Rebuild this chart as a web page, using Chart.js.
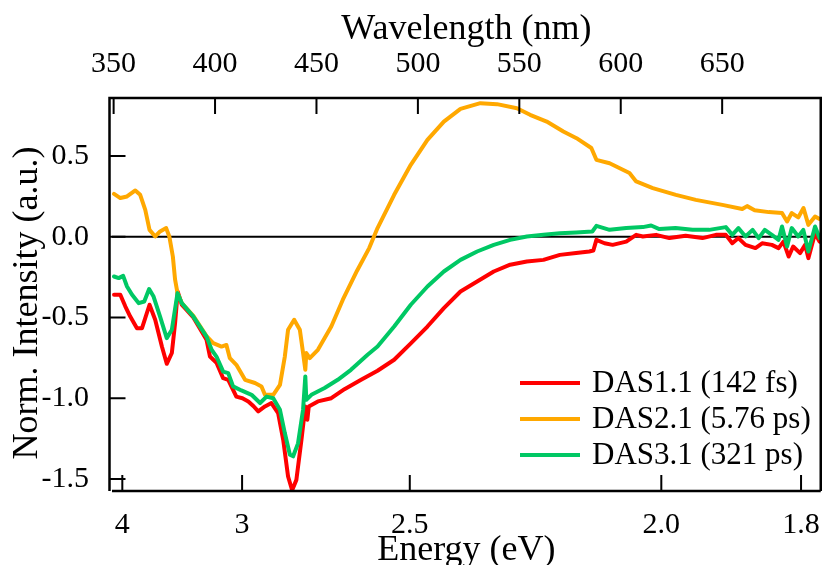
<!DOCTYPE html>
<html>
<head>
<meta charset="utf-8">
<script src="https://cdn.jsdelivr.net/npm/chart.js@4.4.0/dist/chart.umd.min.js"></script>
<style>
  html, body { margin: 0; padding: 0; background: #fff; overflow: hidden; }
  #wrap { width: 828px; height: 565px; }
</style>
</head>
<body>
<div id="wrap"><canvas id="chartDas" width="828" height="565"></canvas></div>
<script>
// DAS1.1 (142 fs) - red
const das1Wl = [350.2, 353.3, 355.8, 358.2, 361.5, 364.0, 367.7, 370.5, 373.8, 376.2, 378.7, 380.3, 381.6, 383.6, 389.3,
  395.8, 397.5, 400.7, 404.0, 406.5, 410.5, 413.5, 416.4, 419.0, 421.3, 424.6, 427.8, 431.1, 433.6, 436.0, 438.0,
  440.1, 442.6, 444.5, 445.5, 446.2, 450.7, 457.3, 463.8, 472.0, 480.1, 488.3, 496.5, 504.7, 512.8, 521.0, 529.2,
  537.4, 545.5, 553.7, 561.9, 570.0, 578.0, 584.5, 586.5, 588.0, 592.0, 596.0, 602.7, 607.6, 610.9, 617.4, 624.0,
  632.0, 640.3, 646.9, 651.8, 655.0, 658.0, 661.5, 666.4, 669.7, 674.5, 677.8, 680.2, 682.8, 685.0, 688.4, 690.9,
  692.5, 695.8, 698.0];
const das1Val = [-0.359, -0.359, -0.432, -0.494, -0.566, -0.566, -0.421, -0.514, -0.68, -0.787, -0.72, -0.535, -0.339, -0.42, -0.50,
  -0.638, -0.742, -0.78, -0.876, -0.886, -0.99, -1.0, -1.02, -1.05, -1.082, -1.051, -1.03, -1.092, -1.258, -1.485, -1.57,
  -1.506, -1.258, -1.051, -1.134, -1.051, -1.02, -1.0, -0.944, -0.886, -0.83, -0.762, -0.66, -0.556, -0.442, -0.339, -0.277,
  -0.215, -0.173, -0.153, -0.143, -0.112, -0.101, -0.091, -0.085, -0.019, -0.04, -0.05, -0.03, 0.012, 0.002, 0.012, -0.008,
  0.006, -0.008, 0.012, 0.012, -0.04, -0.008, -0.05, -0.07, -0.04, -0.05, -0.07, -0.03, -0.122, -0.06, -0.101, -0.05,
  -0.132, 0.022, -0.03];

// DAS2.1 (5.76 ps) - orange
const das2Wl = [350.2, 353.3, 356.6, 360.7, 363.1, 365.6, 367.7, 370.5, 372.9, 375.9, 377.5, 379.2, 380.3, 381.5, 383.6,
  389.3, 395.8, 399.1, 403.2, 405.6, 407.3, 410.5, 414.8, 419.7, 422.9, 424.6, 428.7, 432.0, 434.4, 436.0, 439.0,
  441.8, 443.4, 444.5, 445.0, 446.7, 450.7, 457.3, 463.0, 470.0, 476.0, 480.1, 488.3, 496.5, 504.7, 512.8, 521.0,
  530.8, 539.0, 548.8, 555.3, 563.5, 571.7, 578.2, 585.5, 588.0, 594.5, 604.3, 607.6, 615.8, 627.2, 637.0, 650.1,
  659.9, 662.3, 666.0, 673.0, 679.5, 682.0, 684.3, 687.5, 690.1, 692.5, 695.8, 698.0];
const das2Val = [0.266, 0.24, 0.25, 0.287, 0.26, 0.167, 0.043, 0.002, 0.033, 0.054, 0.0, -0.122, -0.266, -0.349, -0.41,
  -0.49, -0.615, -0.659, -0.68, -0.67, -0.752, -0.793, -0.886, -0.906, -0.927, -0.979, -0.979, -0.917, -0.742, -0.576, -0.514,
  -0.576, -0.72, -0.824, -0.72, -0.752, -0.70, -0.556, -0.39, -0.21, -0.07, 0.054, 0.26, 0.446, 0.601, 0.714, 0.793,
  0.828, 0.822, 0.797, 0.756, 0.714, 0.652, 0.611, 0.55, 0.477, 0.456, 0.395, 0.343, 0.302, 0.26, 0.229, 0.198,
  0.172, 0.19, 0.165, 0.153, 0.147, 0.095, 0.147, 0.12, 0.178, 0.074, 0.126, 0.11];

// DAS3.1 (321 ps) - green
const das3Wl = [350.2, 352.5, 354.7, 356.6, 359.1, 362.4, 365.1, 367.5, 369.7, 372.9, 376.2, 378.7, 381.5, 383.6, 389.3,
  395.8, 398.3, 400.7, 404.0, 406.5, 408.9, 413.0, 418.0, 422.2, 425.4, 428.7, 432.0, 434.4, 436.9, 438.5, 440.9,
  443.4, 444.5, 445.0, 447.5, 454.0, 460.5, 467.0, 475.2, 480.1, 488.3, 496.5, 504.7, 512.8, 521.0, 529.2, 537.4,
  545.5, 553.7, 561.9, 570.0, 578.0, 586.0, 588.0, 594.5, 602.7, 610.9, 615.0, 619.0, 627.0, 635.4, 643.6, 651.8,
  655.0, 658.0, 661.5, 665.0, 668.0, 671.0, 674.5, 677.8, 679.5, 682.0, 684.3, 687.5, 690.0, 692.5, 695.8, 698.0];
const das3Val = [-0.246, -0.256, -0.242, -0.308, -0.359, -0.411, -0.401, -0.324, -0.37, -0.494, -0.628, -0.576, -0.349, -0.411, -0.494,
  -0.618, -0.70, -0.742, -0.835, -0.845, -0.927, -0.952, -0.979, -1.03, -0.99, -1.0, -1.072, -1.216, -1.35, -1.36, -1.28,
  -1.07, -0.865, -1.01, -0.979, -0.937, -0.886, -0.824, -0.731, -0.68, -0.556, -0.421, -0.308, -0.215, -0.143, -0.091, -0.05,
  -0.019, 0.002, 0.012, 0.022, 0.027, 0.033, 0.068, 0.043, 0.054, 0.06, 0.07, 0.048, 0.054, 0.043, 0.043, 0.06,
  0.012, 0.054, 0.002, 0.043, -0.008, 0.043, 0.012, -0.019, 0.064, -0.06, 0.054, 0.002, 0.043, -0.091, 0.064, -0.008];

const seriesLabels = ['DAS1.1 (142 fs)', 'DAS2.1 (5.76 ps)', 'DAS3.1 (321 ps)'];
const seriesColors = ['#ff0000', '#ffa800', '#00c864'];

// axes
const wavelengthTicks = [350, 400, 450, 500, 550, 600, 650];
const energyTicks = [3.5, 3, 2.5, 2.0, 1.8];
const energyTickLabels = ['4', '3', '2.5', '2.0', '1.8'];
const intensityTicks = [0.5, 0.0, -0.5, -1.0, -1.5];
const yTitle = 'Norm. Intensity (a.u.)';

const WL_MIN = 349.2, WL_MAX = 698.6;
const SERIF = "'Liberation Serif', 'Times New Roman', serif";
const tickFont = { family: SERIF, size: 30 };
const titleFont = { family: SERIF, size: 36 };

function toPoints(wl, val) {
    return wl.map((w, i) => ({ x: w, y: val[i] }));
}

// ticks pointing inward, frame, zero line, y title and legend
const decorPlugin = {
    id: 'decor',
    beforeDatasetsDraw(chart) {
        const { ctx, chartArea: a, scales } = chart;
        const y0 = scales.y.getPixelForValue(0);
        ctx.save();
        ctx.strokeStyle = '#000';
        ctx.lineWidth = 2;
        ctx.beginPath();
        ctx.moveTo(a.left, y0);
        ctx.lineTo(a.right, y0);
        ctx.stroke();
        ctx.restore();
    },
    afterDraw(chart) {
        const { ctx, chartArea: a, scales } = chart;
        const leftX = a.left - 2.5;
        ctx.save();
        ctx.strokeStyle = '#000';
        ctx.lineWidth = 2.5;
        ctx.beginPath();
        ctx.moveTo(leftX, a.bottom);
        ctx.lineTo(leftX, a.top);
        ctx.lineTo(a.right, a.top);
        ctx.lineTo(a.right, a.bottom);
        ctx.moveTo(a.left, a.bottom);
        ctx.lineTo(a.right, a.bottom);
        ctx.stroke();

        ctx.lineWidth = 2;
        ctx.beginPath();
        scales.x2.ticks.forEach(t => {
            const px = scales.x2.getPixelForValue(t.value);
            ctx.moveTo(px, a.top);
            ctx.lineTo(px, a.top + 16);
        });
        scales.x.ticks.forEach(t => {
            const px = scales.x.getPixelForValue(t.value);
            ctx.moveTo(px, a.bottom);
            ctx.lineTo(px, a.bottom - 16);
        });
        scales.y.ticks.forEach(t => {
            const py = scales.y.getPixelForValue(t.value);
            ctx.moveTo(leftX, py);
            ctx.lineTo(leftX + 16, py);
        });
        ctx.stroke();

        // y axis title, a bit below the axis centre like the original
        ctx.fillStyle = '#000';
        ctx.font = '36px ' + SERIF;
        ctx.textAlign = 'center';
        ctx.textBaseline = 'middle';
        ctx.translate(28, 303);
        ctx.rotate(-Math.PI / 2);
        ctx.fillText(yTitle, 0, 0);
        ctx.setTransform(1, 0, 0, 1, 0, 0);

        // legend
        const rows = [383, 419, 455];
        ctx.font = '31px ' + SERIF;
        ctx.textAlign = 'left';
        chart.data.datasets.forEach((ds, i) => {
            ctx.strokeStyle = ds.borderColor;
            ctx.lineWidth = 4;
            ctx.beginPath();
            ctx.moveTo(520, rows[i]);
            ctx.lineTo(580, rows[i]);
            ctx.stroke();
            ctx.fillText(ds.label, 592, rows[i] + 1);
        });
        ctx.restore();
    }
};

const ctxDas = document.getElementById('chartDas').getContext('2d');
const chartDas = new Chart(ctxDas, {
    type: 'line',
    data: {
        datasets: [
            { label: seriesLabels[0], data: toPoints(das1Wl, das1Val), borderColor: seriesColors[0], order: 3 },
            { label: seriesLabels[1], data: toPoints(das2Wl, das2Val), borderColor: seriesColors[1], order: 2 },
            { label: seriesLabels[2], data: toPoints(das3Wl, das3Val), borderColor: seriesColors[2], order: 1 }
        ]
    },
    options: {
        responsive: false,
        animation: false,
        layout: { padding: { left: 0, right: 2, top: 0, bottom: 0 } },
        elements: {
            line: { borderWidth: 4, tension: 0, borderJoinStyle: 'round', borderCapStyle: 'round', fill: false },
            point: { radius: 0 }
        },
        plugins: {
            legend: { display: false },
            tooltip: { enabled: false }
        },
        scales: {
            x: {
                type: 'linear',
                position: 'bottom',
                min: WL_MIN,
                max: WL_MAX,
                afterBuildTicks: s => { s.ticks = energyTicks.map(e => ({ value: 1240 / e })); },
                afterFit: s => { s.height = 74; },
                grid: { display: false },
                border: { display: false },
                ticks: {
                    font: tickFont, color: '#000', padding: 8, maxRotation: 0, autoSkip: false,
                    callback: (v, i) => energyTickLabels[i]
                },
                title: { display: true, text: 'Energy (eV)', font: titleFont, color: '#000', padding: { top: 0, bottom: -7 } }
            },
            x2: {
                type: 'linear',
                position: 'top',
                min: WL_MIN,
                max: WL_MAX,
                afterBuildTicks: s => { s.ticks = wavelengthTicks.map(v => ({ value: v })); },
                afterFit: s => { s.height = 98; },
                grid: { display: false },
                border: { display: false },
                ticks: { font: tickFont, color: '#000', padding: 8, maxRotation: 0, autoSkip: false },
                title: { display: true, text: 'Wavelength (nm)', font: titleFont, color: '#000', padding: { top: 8, bottom: 0 } }
            },
            y: {
                type: 'linear',
                position: 'left',
                min: -1.575,
                max: 0.86,
                afterBuildTicks: s => { s.ticks = intensityTicks.map(v => ({ value: v })); },
                afterFit: s => { s.width = 112; },
                grid: { display: false },
                border: { display: false },
                ticks: { font: tickFont, color: '#000', padding: 15, autoSkip: false, callback: v => v.toFixed(1) },
                title: { display: false }
            }
        }
    },
    plugins: [decorPlugin]
});
</script>
</body>
</html>
